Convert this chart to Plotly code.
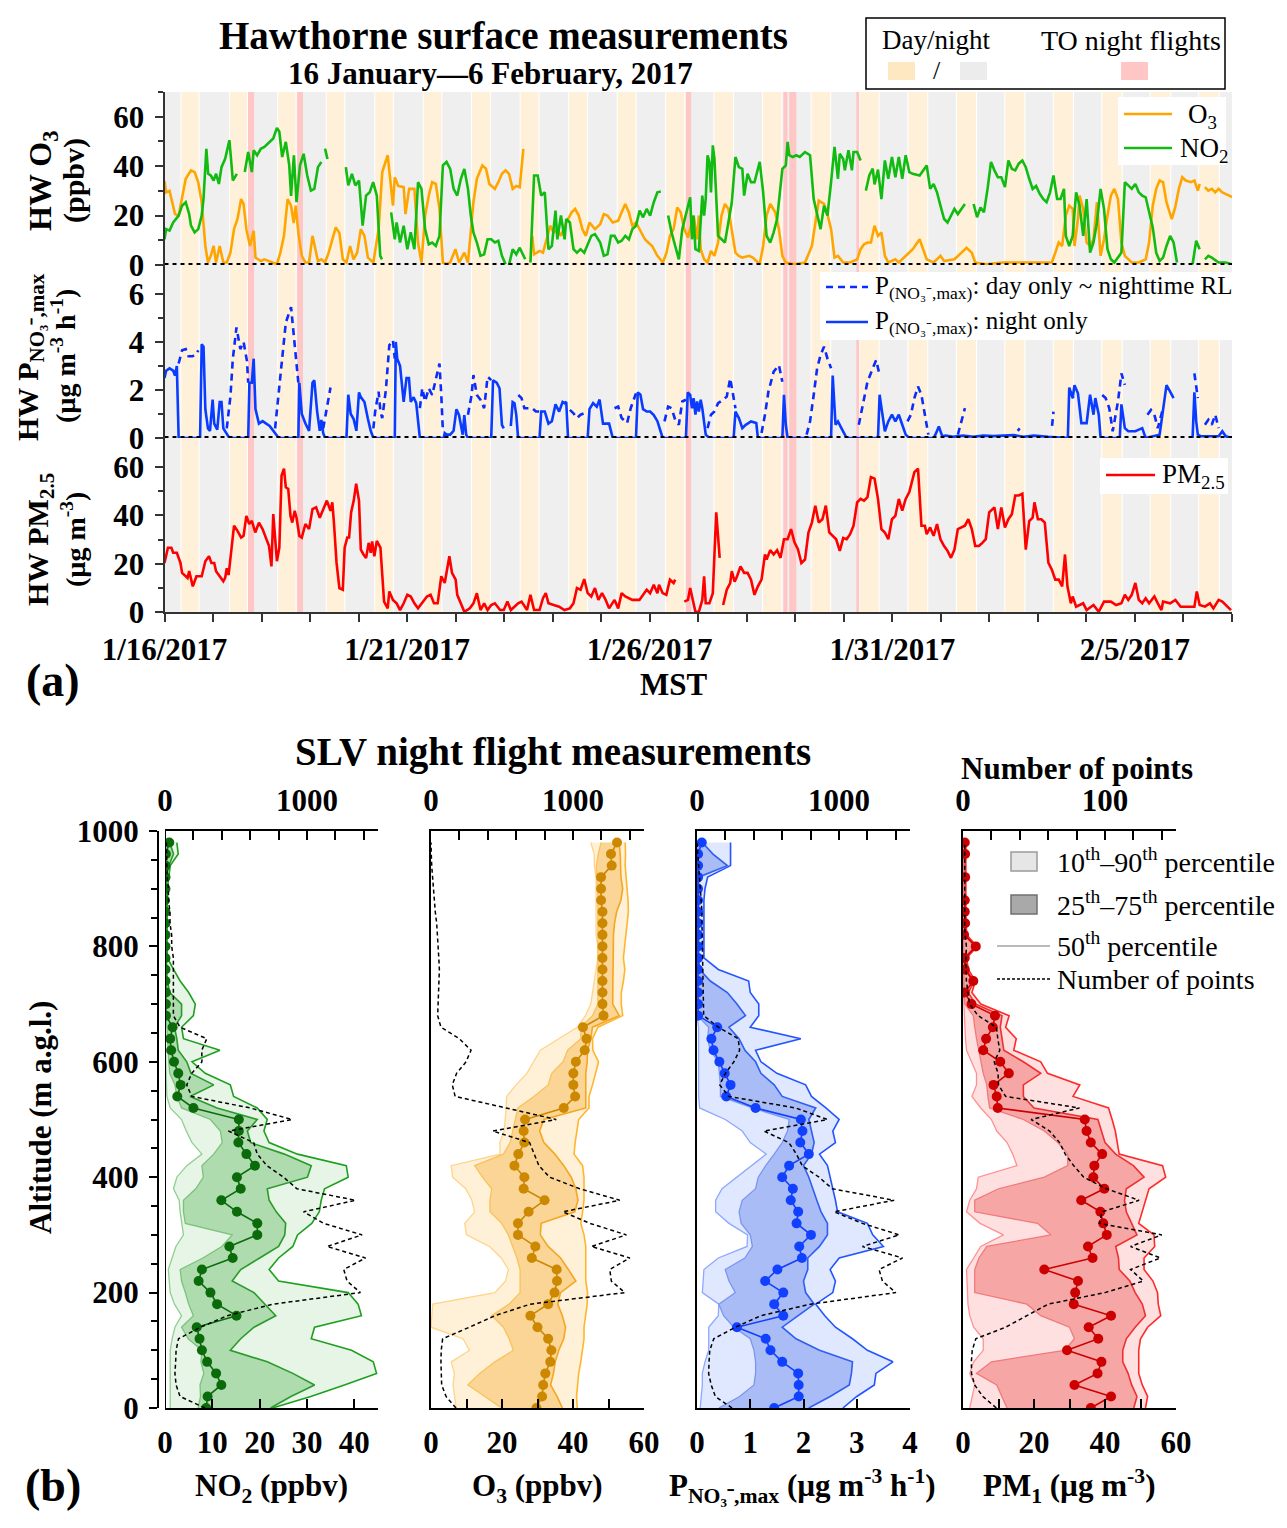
import plotly.graph_objects as go

# page is 1287 x 1528; the html body adds an 8px margin around the figure
PAGE_W, PAGE_H = 1287, 1528
OFF = 8
W, H = PAGE_W - 2 * OFF, PAGE_H - 2 * OFF
FONT = "Liberation Serif"
INK = "#333333"


def fx(p):
    return (p - OFF) / W


def fy(p):
    return 1 - (p - OFF) / H


GAP = (None, None)

# ---------------- panel (a): time axis (hours since 1/16/2017 00:00 MST) -------------
DATE_LABELS = ["1/16/2017", "1/21/2017", "1/26/2017", "1/31/2017", "2/5/2017"]
DATE_LABEL_HOURS = [0, 120, 240, 360, 480]
TOTAL_HOURS = 528

# daytime (local hours) for each of the 22 days
DAY_START = [8.1, 8.1, 8.0, 8.0, 8.0, 8.0, 7.9, 7.9, 7.9, 7.9, 7.8, 7.8, 7.8, 7.8, 7.7, 7.7, 7.7, 7.6, 7.6, 7.6, 7.5, 7.5]
DAY_END = [17.1, 17.1, 17.1, 17.2, 17.2, 17.2, 17.3, 17.3, 17.3, 17.3, 17.4, 17.4, 17.4, 17.5, 17.5, 17.5, 17.6, 17.6, 17.6, 17.7, 17.7, 17.7]

# TO night flights (start hour, end hour)
FLIGHTS = [(41.3, 44.3), (65.6, 68.5), (257.9, 260.5), (306.1, 308.1), (309.0, 312.5), (342.2, 343.6)]

O3_TS = [
    (0, 34), (0.8, 29.4), (2.5, 30), (3.4, 26.7), (5.2, 20.6), (7, 20), (8.7, 26.7), (10.5, 34.9), (13.1, 38.3),
    (14.9, 37.6), (16.7, 33.5), (18.4, 25.4), (20.2, 7.7), (21.5, 1), (22.9, 3.7), (24.3, 7.7), (25.5, 1), (27.3, 7.7),
    (29.1, 1), (30.8, 1), (32.6, 5), (34.4, 14.5), (36.1, 18.6), (37.9, 26.7), (39.1, 24.7), (40.5, 14.5), (42.3, 7.7),
    (44.1, 13.8), (45, 3), (47.6, 1.6), (49.4, 2.3), (52.9, 1), (55.6, 0.3), (57.3, 5), (59.1, 11.8), (60.9, 26.7),
    (62.6, 24), (63.9, 17), (64.9, 24), (66.2, 13), (67.9, 3.7), (69.7, 1), (71.5, 1), (73.2, 11.8), (74.4, 7.7),
    (75.9, 1.6), (77.6, 2.3), (79.4, 1), (81.2, 5), (82.9, 10.4), (84.7, 15.2), (86.5, 13), (88.2, 2.3), (90, 1),
    (91.8, 7.7), (93.5, 2.3), (95.3, 5), (97.1, 14.5), (98.9, 11.8), (100.6, 3), (103.3, 1), (105.9, 14.5), (107.7, 37.6),
    (110.4, 44.4), (111.6, 36), (113, 24), (113.9, 35.5), (115.6, 32), (118.3, 31.5), (119.2, 20.6), (121, 30.8),
    (123.6, 30.8), (125.4, 9), (127.1, 1), (128.9, 20), (130.7, 28), (132.4, 33.5), (134.2, 32.8), (136, 22.7),
    (137.7, 1), (139.5, 0.3), (141.3, 1), (143.9, 6.4), (145.7, 1), (148.3, 5), (150.1, 1), (152.8, 25.4), (154.5, 34.9),
    (157.2, 40.3), (159, 39), (160.7, 32.8), (163.4, 30.8), (165.1, 33.5), (166.9, 36.9), (168.7, 38.3), (170.4, 36.9),
    (172.2, 30.8), (174, 32), (175.7, 31.5), (177.5, 47), GAP,
    (181.9, 11.8), (182.8, 4.3), (185.5, 5.7), (187.2, 5), (189, 10.4), (190.8, 15.9), (192.5, 13), (194.3, 14.5),
    (196.1, 11.8), (198.7, 17.2), (201.4, 21.3), (203.1, 22.7), (204.9, 20), (206.7, 14.5), (208.4, 11.8), (210.2, 17.2),
    (212.9, 14.5), (215.5, 16.5), (217.3, 20.6), (219.1, 20), (221.7, 17.2), (224.4, 17.9), (226.1, 21.3), (227.9, 24.7),
    (229.7, 21.3), (231.4, 15.9), (233.2, 17.2), (235, 14.5), (237.6, 10.4), (239.4, 9), (241.2, 7.7), (243.8, 3.7),
    (246.5, 1), (248.3, 5), (250, 11.8), (251.8, 14.5), (253.6, 23.3), (255.3, 21.3), (257.1, 14.5), (258.9, 11.1),
    (261.7, 20), (263.4, 10.4), (264.3, 20), (265.2, 6.4), (266.9, 2.3), (268.6, 1), (270.3, 5.7), (272, 3.7),
    (273.8, 9.1), (275.5, 20), (277.2, 24.7), (278.9, 22.7), (280.6, 14.5), (282.4, 5), (284.1, 3.7), (285.8, 3),
    (289.2, 3.7), (291, 3), (294.4, 0.3), (296.1, 7.7), (297.8, 20), (299.6, 24.7), (302.1, 21.3), (303.9, 14.5),
    (305.6, 3.7), (307.3, 1), (311.6, 0.3), (316.8, 1), (320.2, 7.7), (321.9, 17.2), (323.6, 26), (326.2, 24.7),
    (327.9, 20.6), (329.7, 14.5), (331.4, 3), (333.1, 3.7), (335.7, 1), (339.1, 1), (342.6, 2.3), (344.3, 6.4),
    (346, 8.4), (347.7, 9.1), (349.4, 9.1), (351.2, 15.9), (352.9, 11.8), (354.6, 13.2), (356.3, 3.7), (358, 1),
    (361.5, 2.3), (363.2, 1), (366.6, 3.7), (370.1, 6.4), (373.5, 10.4), (375.2, 6.4), (377, 2.3), (380.4, 1),
    (383.8, 3.7), (385.6, 1.6), (390.7, 2.3), (394.2, 5), (396.7, 7), (399.3, 5), (401, 1), (406.2, 0.3), (414.8, 1),
    (423.4, 1), (432, 1), (438.9, 1), (440.6, 5), (442.3, 9.1), (444, 7.7), (445.8, 20), (447.5, 24), (449.2, 22.7),
    (450.1, 7.7), (451.8, 18.6), (452.6, 28.1), (454.4, 22.7), (456.1, 9.1), (457.8, 7.7), (459.5, 10.4), (461.2, 25.4),
    (463, 3.7), (464.7, 10.4), (466.4, 20), (468.1, 28.1), (469.8, 30.8), (471.6, 26.7), (473.3, 9.1), (475, 3.7),
    (478.4, 1), (481.9, 1), (485.3, 2.3), (487, 9.1), (488.8, 24), (490.5, 30.8), (492.2, 34.2), (493.9, 33.5),
    (495.6, 25.4), (498.2, 18.6), (499.9, 23.3), (501.7, 30.8), (503.4, 35.5), (505.1, 34.2), (507.7, 33.5),
    (509.4, 34.2), (511.1, 30.1), (512, 32.8), GAP,
    (514.6, 31.5), (516.3, 30.1), (518, 30.8), (519.7, 29.4), (521.4, 30.8), (523.2, 29.4), (526.6, 28.1), (528, 27.5),
]

NO2_TS = [
    (0, 10.4), (0.8, 14.5), (2.5, 13.9), (4.3, 17.2), (7, 20), (8.7, 24), (10.5, 25.4), (12.2, 20.6), (13.1, 15.9),
    (14.9, 13.2), (16.7, 14.5), (18.4, 20), (19.3, 26.7), (20.7, 47), (21.6, 36.9), (22.9, 36.2), (24.3, 34.2),
    (25.5, 36.9), (26.9, 32.8), (28.2, 39.6), (30, 43), (32.1, 50.5), (33.8, 34.2), (35.8, 36.9), GAP,
    (39.7, 37.6), (41.4, 45.7), (43.2, 37.6), (44.1, 46.4), (45.8, 44.4), (47.6, 47), (49.4, 47.8), (51.2, 49.1),
    (53.8, 51.2), (55.6, 55.5), (56.8, 53.9), (58.2, 43.7), (60, 49.8), (61.7, 40.3), (62.6, 28), (64, 44.4),
    (65.3, 25.4), (67, 40.3), (68.8, 45), (70.6, 36.2), (72.4, 30.1), (74.1, 30.8), (75.9, 39.6), (77.6, 41.7), GAP,
    (79.4, 47.1), (80.6, 42.9), GAP,
    (89.7, 39.6), (90.9, 32.2), (92.7, 36.9), (94.4, 32.2), (96.2, 34.2), (98, 15.9), (99.7, 28.1), (101.5, 29.4),
    (103.2, 33.5), (105, 28.1), (106.7, 3.7), (107.6, 2.3), GAP,
    (112.1, 21.3), (113.9, 10.4), (114.8, 17.2), (116.5, 9.1), (118.3, 15.9), (120.1, 6.4), (121.8, 13.2), (123.6, 6.4),
    (125.4, 33.5), (127.1, 30.8), (128.9, 14.5), (130.7, 8.4), (132.4, 9.1), (134.2, 7.7), (136, 11.8), (137.7, 40.3),
    (139.5, 41.7), (141.3, 38.9), (143, 30.8), (144.8, 28.1), (146.6, 34.9), (148.3, 38.9), (150.1, 30.8), (151.5, 20),
    (152.8, 13.2), (154.5, 9.1), (156.3, 3.7), (158.1, 4.3), (159.8, 10.4), (161.6, 10.4), (163.4, 9.1), (165.1, 9.8),
    (166.9, 3.7), (168.7, 0.3), GAP,
    (170.4, 0), (172.2, 6.4), (174, 4.3), (175.7, 7), (178.4, 2.3), GAP,
    (181, 1), (182.8, 36.2), (184.6, 36.2), (186.3, 28.1), (188.1, 29.4), (189.9, 6.4), (191.6, 7.7), (193.4, 22),
    (194.3, 10.4), (196.1, 20), (197.9, 10.4), (198.7, 18.6), (200.5, 17.2), (202.3, 6.4), (204, 5), (205.8, 6.4),
    (207.6, 5), (209.3, 8.4), (211.1, 11.8), (212.9, 12.5), (215.5, 9.1), (217.3, 3.7), (219.1, 4.3), (220.8, 11.8),
    (222.6, 11.8), (224.4, 9.1), (226.1, 9.8), (227.9, 11.8), (229.7, 10.4), (231.4, 14.5), (233.2, 15.9), (235, 22),
    (236.7, 19.3), (238.5, 22.7), (240.2, 20), (242, 25.4), (243.8, 29.4), (245.5, 29.7), GAP,
    (249.1, 20), (250.8, 13.2), (252.6, 7.7), (254.4, 2.3), (256.1, 14.5), (257.9, 20),
    (260, 27.4), (260.9, 10.4), (261.7, 20), (262.6, 6.4), (264.3, 5.7), (266, 28.1), (266.9, 20), (267.7, 26.7),
    (268.6, 44.4), (269.5, 41.7), (270.3, 29.4), (271.2, 48.4), (272, 43), (273.8, 11.8), (275.5, 10.4), (277.2, 9.1),
    (278.9, 17.2), (280.6, 25.4), (282.4, 43.7), (284.1, 39.6), (285.8, 38.9), (286.7, 28.1), (288.4, 36.9),
    (290.1, 33.5), (291.8, 33.5), (293.5, 38.3), (294.4, 41.7), (296.1, 29.4), (297.8, 11.8), (299.6, 9.1),
    (301.3, 13.2), (303, 18.6), (305.6, 38.9), (307.3, 40.3), (308.2, 49.8), (309, 44.4), (310.7, 43.7), (312.5, 44.4),
    (314.2, 43.7), (316.8, 45.7), (319.3, 44.4), (321.1, 26.7), (322.8, 20), (324.5, 14.5), (326.2, 24), (327.9, 20),
    (329.7, 33.5), (331.4, 47.8), (333.1, 34.9), (334, 45), (335.7, 42.9), (336.5, 38.3), (338.3, 46.4), (340, 38.3),
    (340.8, 45.7), (342.6, 45.7), (344.3, 42.3), GAP,
    (346.9, 30.1), (348.6, 36.2), (350.3, 39), (351.2, 32.6), (352.9, 38.6), (354.6, 26.7), (356.3, 42.3), (358, 34.9),
    (359.8, 43.7), (361.5, 35.5), (363.2, 43.7), (364.9, 34.9), (366.6, 44.4), (368.4, 37.6), (370.1, 36.9),
    (373.5, 36.2), (377, 40.3), (378.7, 30.8), (380.4, 32.8), (382.1, 29.4), (383.8, 24), (385.6, 18.6), (387.3, 17.2),
    (389, 20), (390.7, 22.7), (392.4, 20.6), (394.2, 22.7), (395.9, 24.7), GAP,
    (400.2, 24.7), (401.9, 19.3), (403.6, 23.3), (405.3, 21.3), (407.1, 30.8), (408.8, 41.7), (410.5, 38.3),
    (412.2, 35.5), (413.9, 35.5), (415.7, 31.5), (417.4, 42.3), (419.1, 38.9), (420.8, 38.3), (422.5, 41), (424.3, 42.3),
    (426, 39.6), (427.7, 34.9), (429.4, 30.8), (431.1, 32), (432.9, 28.8), (434.6, 26.7), (436.3, 25.4), (438, 29.4),
    (439.7, 36.2), (441.5, 26.7), (443.2, 26.7), (444.9, 30.8), (445.8, 11.8), (447.5, 7.7), (449.2, 11.8),
    (450.9, 29.4), (452.6, 24), (454.4, 11.8), (456.1, 26.7), (457.8, 5), (459.5, 9.1), (461.2, 17.2), (463, 30.8),
    (464.7, 22.7), (466.4, 6.4), (468.1, 2.3), (469.8, 1), (473.3, 5), (475, 33.5), (476.7, 32.2), (478.4, 30.8),
    (480.2, 32.8), (481.9, 29.4), (483.6, 28.1), (485.3, 27.4), (488.8, 15.2), (490.5, 5), (492.2, 1.6), (493.9, 3),
    (495.6, 7.7), (497.4, 11.8), (499.1, 9.1), (500.8, 1), GAP,
    (508.5, 0.3), (510.3, 9.8), (512, 6.4), GAP,
    (514.6, 2.3), (516.3, 3.7), (518, 3), (521.4, 1), (524.9, 1), (528, 0.3),
]

P_NIGHT_TS = [
    (0, 2.5), (0.8, 2.8), (2.5, 2.9), (4.3, 2.8), (5.2, 2.6), (6.1, 3.0), (7.0, 0), (17.6, 0), (18.4, 3.9), (19.3, 3.8),
    (20.2, 1.2), (21.5, 0.4), (22.5, 0.3), (23.8, 1.6), (24.6, 0.6), (26.1, 0.35), (27.3, 1.5), (28.2, 1.5), (29.1, 0.4),
    (30.8, 0.14), (32.1, 0), (41.4, 0), (42, 2.3), (43.2, 2.3), (44.1, 3.3), (45, 1.2), (46.7, 0.6), (48.5, 0.7),
    (50.3, 0.6), (52, 0.5), (53.8, 0.3), (55.6, 0.07), (56.5, 0), (66.2, 0), (66.7, 2.3), (67.9, 1), (69.7, 0.6),
    (71.5, 0.3), (73.2, 2.3), (74.1, 2.4), (75.5, 1.1), (76.8, 0.3), (77.6, 0.75), (78.5, 0.2), (79.4, 0), (90, 0),
    (90.9, 1.8), (92.1, 1), (93.5, 0.8), (94.9, 0.3), (96.2, 1.9), (97.1, 1.7), (98.9, 1.5), (100.6, 0.8), (102, 0.3),
    (103.3, 0), (113.9, 0), (114.4, 4), (115.1, 3.3), (116.5, 3.0), (118.3, 1.5), (119.7, 2.5), (120.9, 2.5),
    (121.8, 1.5), (123.2, 1.7), (124.5, 1.45), (126.3, 0), (138.1, 0), (138.6, 0.2), (139.5, 0.14), (141.3, 0.14),
    (143, 0.3), (144.4, 1.2), (145.7, 0.95), (147.5, 0.14), (148.3, 0.95), (149.2, 0.14), (150.1, 0), (161.6, 0),
    (162.5, 2.4), (164.3, 2.3), (165.7, 2.07), (166.9, 0.55), (167.8, 0.4), GAP,
    (171.3, 0.5), (172.2, 1.5), (173.1, 1.45), (174, 0.95), (174.9, 0), (185.5, 0), (186.3, 1.1), (188.1, 1.1),
    (189.9, 0.6), (191.6, 0.7), (193.4, 1.4), (195.2, 1.1), (196.9, 1.5), (197.8, 1.45), (198.7, 1.5), (199.6, 0),
    (209.3, 0), (210.2, 1.2), (212, 1.45), (213.8, 1.3), (215.2, 1.6), (216.9, 0.6), (218.2, 0.6), (219.9, 0.6),
    (221.7, 0), (233.2, 0), (234.1, 1.9), (235.4, 1.8), (236.7, 1.2), (238.5, 1.1), (240.2, 1.1), (242, 0.95),
    (243.8, 0.7), (245.5, 0.3), (246.4, 0), (257.9, 0), (258.8, 1.9),
    (260, 1.8), (260.9, 1.24), (261.7, 1.66), (262.6, 0.97), (263.4, 1.52), (264.3, 1.1), (265.2, 1.59), (266, 1.24),
    (267.7, 0.14), (269.5, 0), (281.5, 0), (282.4, 1.1), (284.1, 0.83), (285.8, 0.41), (287.5, 0.55), (290.1, 0.69),
    (292.7, 0.62), (293.5, 0), (305.6, 0), (306.4, 1.8), (307.3, 0.55), (308.2, 0), (329.7, 0), (330.5, 2.6),
    (331.9, 0.55), (333.1, 0.69), (334.8, 0.41), (335.7, 0.28), (337.4, 0), (352.9, 0), (353.7, 1.8), (354.9, 1.1),
    (356.3, 0.28), (358, 0.69), (359.8, 0.97), (361.5, 0.69), (363.2, 0.97), (364.9, 0.55), (366.6, 0.14), (368.4, 0),
    (380.4, 0), (381.3, 0.14), (383, 0.48), (384.7, 0.07), (386.4, 0.1), (390, 0.05), (395, 0.1), (400, 0.05),
    (405, 0.1), (410, 0.08), (420, 0.12), (425, 0.05), (430, 0.1), (437, 0.05), (446.8, 0), (447.5, 2.1), (449.2, 1.66),
    (450.1, 2.2), (451.8, 1.86), (453.5, 0.62), (456.1, 0.62), (457.8, 1.8), (459.5, 0.97), (460.4, 1.66),
    (462.1, 0.97), (463, 0), (472.5, 0), (473.3, 1.4), (475, 0.41), (476.7, 0.28), (480.2, 0.28), (483.6, 0.41),
    (485.3, 0), (492.2, 0.14), (493.9, 1.24), (495.6, 2.2), (497.4, 1.93), (499.1, 1.66), GAP,
    (508.5, 0), (509.4, 1.9), (510.3, 0.69), (511.1, 0.14), (512.8, 0.07), (521.4, 0.07), (523.2, 0.28), (524.9, 0.07),
    (528, 0),
]

P_DAY_TS = [
    (7, 3.1), (8.7, 3.65), (10.5, 3.7), (11.9, 3.4), (13.7, 3.4), (15.4, 3.45), (16.7, 3.65), GAP,
    (30.8, 0.4), (32.6, 1.72), (33.8, 3.3), (35.6, 4.6), (37.5, 3.7), (39.1, 4.0), (40.8, 3.2), (41.4, 2.3), GAP,
    (54.7, 0.4), (56.5, 1.9), (58.2, 3.6), (60, 4.8), (62.6, 5.45), (64, 4.3), (65.3, 3.0), (66.2, 2.3), GAP,
    (78.5, 0.4), (80.3, 1.24), (82.1, 2.1), GAP,
    (103.3, 0.4), (104.2, 1.1), (105.9, 1.93), (106.8, 1.1), (107.7, 0.83), (109.5, 2.0), (111.2, 3.86), (113, 4.07),
    (113.9, 3.3), GAP,
    (126.3, 1.24), (127.5, 2.07), (128.9, 1.52), (130.7, 2.07), (132.4, 1.79), (134.2, 2.48), (136, 3.1), (136.9, 1.79),
    (137.7, 0.28), GAP,
    (150.1, 0.97), (151.9, 1.79), (152.8, 2.62), (154.5, 1.79), (156.3, 1.59), (158.1, 1.24), (159.8, 2.55),
    (161.6, 2.41), GAP,
    (175, 1.79), (176.6, 1.66), (178, 1.24), (181.9, 1.24), (183.7, 1.1), (185.5, 1.1), GAP,
    (200.5, 1.17), (202.3, 1.03), (204, 0.83), (205.8, 0.97), (207.6, 1.03), (209.3, 1.1), GAP,
    (222.6, 1.24), (224.4, 1.31), (226.1, 0.83), (228.8, 0.62), (230.6, 1.24), (232.3, 1.65), (233.2, 1.86), GAP,
    (247.3, 0.69), (249.1, 1.31), (250.8, 1.24), (252.6, 0.76), (254.4, 0.55), (256.1, 1.52), (257.9, 1.59), GAP,
    (268.6, 0.41), (270.3, 0.97), (272, 1.1), (273.8, 1.45), (276.3, 1.59), (278.1, 1.72), (279.8, 2.48), (280.6, 2.07),
    (282.4, 1.24), GAP,
    (295.3, 0.21), (297, 0.97), (298.7, 1.93), (301.3, 2.76), (303.9, 3.03), (305.6, 2.34), GAP,
    (317.6, 0.14), (319.3, 0.69), (321.1, 1.79), (322.8, 2.9), (324.5, 3.45), (326.2, 3.8), (327.9, 3.31), (329.7, 2.9),
    GAP,
    (343.4, 0.55), (346, 1.66), (347.7, 2.34), (350.3, 2.9), (352, 3.24), (353.7, 2.62), GAP,
    (367.5, 0.69), (369.2, 0.97), (370.9, 1.66), (372.7, 2.14), (374.4, 1.79), (376.1, 0.97), (377.8, 0.14), GAP,
    (392.4, 0.14), (394.2, 0.69), (395.9, 1.24), GAP,
    (422, 0.3), (423, 0.4), GAP,
    (439, 0.5), (439.7, 1.1), GAP,
    (448.3, 1.93), (450.1, 1.52), GAP,
    (463.8, 1.79), (465.5, 1.66), (467.3, 1.24), (469, 0.28), (471.6, 1.52), (473.3, 2.69), (475, 2.21), GAP,
    (486.2, 0.97), (487.9, 1.17), (489.6, 0.97), (491.3, 0.41), (493.9, 1.24), GAP,
    (509.4, 2.69), (511.1, 1.66), GAP,
    (514.6, 0.55), (516.3, 0.76), (518, 0.55), (519.7, 0.97), (521.4, 0.41),
]

PM25_TS = [
    (0, 20.3), (0.8, 23.1), (1.7, 26.6), (3.4, 26.6), (4.3, 24.5), (6.1, 24.5), (7.9, 20.3), (8.7, 16.2), (9.6, 15.5),
    (11.4, 14.1), (12.2, 16.9), (14, 10.6), (15.8, 14.8), (18.4, 14.8), (20.2, 21), (22, 23.1), (23.2, 20.3),
    (24.6, 20.3), (25.5, 16.9), (27.3, 14.8), (29.1, 12.7), (30, 14.1), (30.8, 18.1), (31.7, 15.3), (33.5, 30.1),
    (34.4, 35.7), (36.1, 33.6), (37.9, 30.8), (39.1, 31.5), (40.5, 39.8), (41.9, 36.4), (43.2, 37.7), (44.9, 32.9),
    (46.7, 37), (48.5, 34.3), (50.3, 30.8), (51.7, 27.3), (52.9, 18.9), (53.8, 40.5), (55.6, 21), (56.8, 26.6),
    (57.9, 56.5), (59.1, 59.3), (60, 51.6), (61.2, 50.9), (62.3, 39.8), (63.2, 37), (64.4, 41.9), (65.3, 39),
    (66.7, 31.5), (67.9, 30.8), (69.7, 36.4), (71.5, 34.3), (73.2, 42.6), (75, 43.3), (76.8, 39), (78.5, 42.6),
    (80.3, 46.1), (82.1, 41.9), (83, 45.4), (83.8, 37), (85.1, 20.3), (86.5, 9.9), (88.2, 9.2), (89.1, 26.6),
    (90.4, 30.8), (91.3, 30.8), (92.3, 41.2), (93.6, 46.1), (94.8, 53.1), (96.2, 46.1), (97.1, 25.8), (98.5, 23.7),
    (99.7, 22.3), (101, 28.6), (102, 24.5), (102.7, 29.2), (103.8, 23), (105, 29.4), (106.8, 26.6), (108.6, 4.3),
    (110.4, 1.5), (111.2, 8.5), (113, 5), (114.8, 3.6), (116.5, 0.8), (118.3, 3.6), (120.1, 7.1), (121.8, 6.4),
    (123.6, 3.6), (125.4, 1.5), (127.1, 3.6), (129.8, 6.4), (131.6, 7.1), (133.3, 3.6), (135.1, 3.6), (136.9, 14.8),
    (138.6, 12), (140.9, 23.1), (142.2, 16.2), (144, 13.4), (144.8, 7.1), (146.6, 3.6), (148.3, 0.1), (151, 1.5),
    (152.8, 3.6), (154.5, 7.8), (156.3, 0.8), (158.1, 3.6), (159.8, 0.8), (161.6, 2.9), (163.4, 3.6), (166, 0.8),
    (167.8, 0.8), (169.6, 4.3), (171.3, 0.8), (173.1, 2.2), (174.9, 3.6), (176.6, 4.3), (179.3, 0.8), (181, 7.1),
    (182.8, 0.8), (185.5, 0.8), (187.2, 5.7), (188.6, 7.8), (189.9, 3.6), (192.5, 2.9), (195.2, 2.2), (197.8, 0.8),
    (200.5, 1.5), (202.3, 3.6), (204, 9.9), (205.8, 9.2), (207.6, 13.6), (209.3, 7.8), (211.1, 6.4), (212.9, 9.9),
    (214.6, 5), (216.4, 7.8), (218.2, 5), (219.9, 1.5), (222.6, 5), (224.4, 1.5), (226.1, 7.8), (227.9, 6.4),
    (231.4, 5), (234.9, 5), (236.7, 7.1), (238.5, 9.2), (240.2, 7.8), (242, 11.3), (243.8, 7.8), (244.6, 11.3),
    (246.4, 7.8), (248.2, 7.1), (250, 13.4), (251.8, 12), (252.6, 13.4), GAP,
    (257.1, 4.3), (258.9, 5), (260, 9.9), (260.9, 6.4), (262.6, 0.1), (264.3, 0.1), (266, 5), (266.9, 14.8),
    (267.7, 3.6), (269.5, 3.6), (271.2, 7.8), (272.9, 41.2), (274.6, 22.4), GAP,
    (276.3, 2.9), (278.1, 9.2), (279.8, 12), (280.6, 16.9), (282, 12.5), (283.2, 14.8), (284.9, 18.9), (286.7, 16.2),
    (288.4, 16.2), (290.1, 13.4), (291.8, 7.1), (293.5, 10.6), (295.3, 13.4), (297, 23.8), (297.8, 21.7),
    (299.6, 25.6), (301.3, 23.8), (303, 25.6), (304.7, 22.4), (306.4, 30.1), (308.2, 30.1), (309.9, 34.3),
    (311.6, 28.8), (313.3, 26), (315, 20.3), (316.8, 21.7), (318.5, 32.9), (320.2, 37), (321.9, 44), (323.6, 37),
    (325.4, 38.4), (327.1, 44), (328.8, 32.9), (330.5, 31.5), (332.2, 30.1), (334, 25.3), (335.7, 30.6), (337.4, 30.1),
    (339.1, 32.2), (340.8, 35.7), (342.6, 45.4), (344.3, 46.8), (346, 46.1), (347.7, 47.5), (349.4, 55.8),
    (351.2, 55.2), (352.9, 46.8), (354.6, 34.3), (356.3, 32.9), (358, 30.1), (359.8, 38.4), (361.5, 39.8),
    (363.2, 46.8), (364.9, 41.9), (366.6, 46.8), (368.4, 49.6), (370.9, 57.9), (372.7, 59.3), (374.4, 35.7),
    (376.1, 35.7), (377, 32.2), (378.7, 35), (380.4, 31.5), (382.1, 36.4), (383.8, 30.1), (385.6, 27.3), (387.3, 25.3),
    (389, 22.4), (390.7, 25.8), (392.4, 34.3), (394.2, 35), (395.9, 35.7), (397.6, 38.4), (399.3, 34.3), (401, 27.3),
    (402.8, 27.3), (404.5, 28.6), (406.2, 30.1), (407.9, 41.2), (410.5, 43.3), (412.2, 34.3), (413.9, 43.3),
    (415.7, 35), (417.4, 38.4), (419.1, 40.5), (420.8, 48.2), (422.5, 48.2), (424.3, 48.9), (426, 25.8), (427.7, 37.6),
    (429.4, 39), (430.3, 45.4), (432, 38.4), (433.7, 38.4), (435.4, 37), (437.2, 20.3), (438.9, 17.5), (440.6, 13.4),
    (442.3, 13.4), (444, 10.6), (445.4, 23.8), (446.6, 10.6), (448.3, 3.6), (449.2, 6.4), (450.9, 2.2), (454.4, 3.6),
    (456.1, 0.8), (459.5, 2.9), (462.1, 0.1), (464.7, 4.3), (468.1, 4.3), (470.7, 2.9), (473.3, 3.6), (475, 7.1),
    (476.7, 5), (478.4, 7.1), (480.2, 12), (481.9, 5), (483.6, 3.6), (485.3, 5.7), (487, 3.6), (489.6, 6.4),
    (491.3, 3.6), (493.1, 0.8), (493.9, 4.3), (497.4, 3.6), (500, 5), (502.6, 2.2), (506, 2.2), (509.4, 2.2),
    (510.6, 8.5), (512, 2.9), (514.6, 2.2), (517.1, 3.6), (518.8, 1.5), (521.4, 5), (523.2, 4.3), (525.7, 2.2),
    (527.5, 0.8),
]

# ---------------- panel (b): vertical profiles ----------------
ALT = [0, 20, 40, 60, 80, 100, 120, 140, 160, 180, 200, 220, 240, 260, 280, 300, 320, 340, 360, 380,
       400, 420, 440, 460, 480, 500, 520, 540, 560, 580, 600, 620, 640, 660, 680, 700, 720, 740, 760, 780,
       800, 820, 840, 860, 880, 900, 920, 940, 960, 980]

NO2_P10 = [1.1, 1.1, 1.1, 1.1, 1.1, 1.1, 1.5, 2.1, 3.5, 2.0, 1.1, 0.9, 0.7, 1.5, 2.3, 3.9, 3.5, 3.2, 3.0, 1.8,
           2.5, 4.6, 7.8, 5.7, 4.5, 3.5, 1.1, 0.4, 0.3, 0.2, 0.1, 0.1, 0.1, 0.1, 0.0, 0.0, 0.0, 0.0, 0.0, 0.0,
           0.0, 0.0, 0.0, 0.0, 0.0, 0.0, 0.0, 0.0, 0.0, 0.0]
NO2_P25 = [7.0, 7.5, 7.4, 8.2, 7.6, 7.8, 4.9, 3.5, 6.0, 5.0, 4.3, 3.5, 3.2, 8.0, 12.0, 14.2, 4.3, 3.9, 3.9, 6.5,
           8.1, 7.8, 10.3, 12.1, 11.7, 9.6, 3.5, 2.5, 2.1, 1.0, 0.8, 0.7, 0.5, 0.4, 0.1, 0.1, 0.1, 0.1, 0.1, 0.1,
           0.1, 0.0, 0.0, 0.0, 0.0, 0.0, 0.0, 0.1, 0.2, 0.5]
NO2_P50 = [8.7, 9.0, 11.9, 10.8, 8.9, 7.8, 7.3, 6.7, 15.1, 11.0, 9.6, 7.1, 7.8, 14.3, 13.6, 19.5, 19.5, 15.2, 11.9, 16.0,
           15.2, 19.0, 17.2, 15.5, 15.6, 15.6, 6.0, 2.6, 3.3, 2.8, 1.9, 1.3, 1.1, 1.6, 0.2, 0.2, 0.2, 0.1, 0.1, 0.1,
           0.1, 0.1, 0.1, 0.1, 0.0, 0.1, 0.1, 0.1, 0.2, 0.9]
NO2_P75 = [22.3, 26.6, 31.6, 27.0, 21.6, 13.8, 16.0, 18.8, 23.4, 21.0, 18.8, 14.2, 16.0, 20.0, 24.0, 25.3, 25.5, 23.5, 22.0, 21.6,
           30.1, 30.9, 25.2, 18.1, 17.4, 19.5, 11.0, 5.3, 10.3, 5.5, 4.6, 2.8, 2.5, 2.0, 3.5, 3.5, 1.0, 0.5, 0.3, 0.3,
           0.3, 0.3, 0.3, 0.3, 0.3, 0.3, 0.3, 0.8, 1.8, 1.0]
NO2_P90 = [22.7, 30.8, 37.9, 44.7, 44.0, 39.4, 30.9, 31.6, 41.5, 40.8, 38.7, 24.0, 22.0, 24.0, 27.0, 28.0, 31.0, 32.6, 33.0, 33.7,
           38.7, 38.3, 28.0, 22.0, 20.9, 21.6, 19.5, 14.5, 13.8, 8.5, 5.7, 11.6, 3.9, 3.5, 6.0, 6.4, 5.0, 3.2, 1.8, 0.5,
           0.4, 0.4, 0.4, 0.4, 0.4, 0.5, 0.8, 1.1, 2.8, 2.5]
NO2_N = [282, 106, 78, 70, 75, 78, 95, 250, 440, 760, 1376, 1282, 1259, 1412, 1141, 1388, 1118, 976, 1341, 929,
         835, 718, 650, 624, 447, 894, 600, 188, 153, 188, 260, 259, 294, 105, 59, 59, 59, 59, 59, 59,
         47, 47, 35, 35, 24, 24, 15, 12, 10, 10]

O3_P10 = [7.1, 6.6, 6.2, 6.6, 5.7, 10.9, 9.0, 0.0, 0.3, 0.5, 18.0, 21.0, 21.8, 19.8, 16.5, 10.0, 9.5, 12.3, 11.5, 9.8,
          6.1, 5.7, 19.5, 19.4, 20.6, 21.0, 21.2, 21.3, 24.0, 27.0, 29.0, 30.8, 36.0, 41.2, 43.5, 45.0, 45.5, 46.0, 46.5, 47.0,
          47.0, 46.5, 46.5, 46.5, 46.5, 46.5, 46.5, 46.0, 46.0, 45.0]
O3_P25 = [19.9, 15.0, 10.4, 13.7, 18.0, 23.2, 22.0, 20.4, 17.1, 22.0, 25.1, 25.1, 25.1, 24.2, 23.0, 21.8, 19.9, 16.6, 16.6, 17.1,
          14.5, 12.3, 20.4, 22.3, 23.0, 23.7, 24.5, 29.0, 33.0, 34.0, 37.2, 38.5, 42.2, 42.2, 45.5, 47.0, 47.0, 47.0, 47.0, 47.0,
          47.0, 47.0, 47.0, 47.0, 47.0, 47.0, 46.6, 46.6, 47.1, 47.9]
O3_P50 = [29.7, 31.3, 31.6, 32.2, 33.6, 33.9, 33.0, 30.0, 28.0, 33.0, 34.8, 35.5, 35.4, 28.4, 29.4, 24.5, 24.5, 27.5, 32.0, 26.1,
          26.3, 23.5, 24.6, 26.3, 26.1, 26.5, 37.4, 40.6, 40.1, 40.1, 40.8, 43.3, 43.8, 42.8, 48.6, 48.3, 48.3, 48.3, 48.3, 48.3,
          48.3, 48.3, 48.3, 48.3, 47.9, 47.9, 47.9, 50.9, 50.7, 52.4]
O3_P75 = [37.0, 35.5, 33.7, 34.5, 35.0, 36.0, 37.4, 37.9, 37.0, 35.7, 36.5, 40.8, 38.7, 36.5, 33.0, 30.8, 31.0, 40.5, 41.4, 40.8,
          39.5, 37.4, 34.9, 31.8, 30.6, 31.8, 43.6, 43.6, 43.6, 43.6, 44.0, 44.1, 45.0, 45.5, 53.0, 51.2, 51.2, 51.2, 51.2, 51.2,
          51.2, 51.4, 51.7, 52.3, 53.5, 54.0, 53.5, 53.5, 53.3, 53.0]
O3_P90 = [41.2, 41.0, 41.3, 41.6, 42.2, 42.7, 43.1, 43.1, 43.6, 44.0, 44.1, 43.6, 43.6, 43.6, 43.6, 43.1, 42.2, 42.7, 43.1, 43.1,
          43.1, 42.7, 40.3, 40.6, 41.2, 41.6, 44.5, 44.5, 45.5, 46.4, 47.2, 45.6, 45.5, 47.0, 54.0, 53.6, 53.6, 54.2, 54.6, 54.2,
          54.5, 54.8, 55.2, 55.6, 55.5, 55.3, 54.9, 54.7, 54.8, 54.7]
O3_N = [176, 106, 75, 70, 70, 72, 82, 270, 450, 700, 1365, 1270, 1259, 1400, 1129, 1376, 1120, 929, 1329, 1047,
        835, 760, 729, 694, 435, 882, 529, 170, 150, 180, 247, 282, 200, 70, 47, 50, 55, 59, 59, 55,
        50, 47, 40, 30, 23, 15, 10, 5, 2, 0]

PNO3_P10 = [0.06, 0.08, 0.1, 0.1, 0.15, 0.22, 0.22, 0.22, 0.4, 0.41, 0.1, 0.12, 0.13, 0.4, 0.94, 0.95, 0.6, 0.35, 0.35, 0.47,
            0.75, 1.04, 1.3, 1.0, 0.85, 0.53, 0.05, 0.03, 0.03, 0.03, 0.03, 0.03, 0.03, 0.03, 0.0, 0.0, 0.0, 0.0, 0.0, 0.0,
            0.0, 0.0, 0.0, 0.0, 0.0, 0.0, 0.0, 0.0, 0.0, 0.0]
PNO3_P25 = [0.41, 0.8, 1.07, 1.1, 1.1, 1.07, 1.0, 0.69, 0.5, 0.41, 0.72, 0.6, 0.53, 0.9, 1.04, 1.0, 0.83, 0.79, 0.85, 1.1,
            1.15, 1.29, 1.45, 1.6, 1.7, 1.73, 1.04, 0.44, 0.44, 0.42, 0.4, 0.25, 0.2, 0.22, 0.01, 0.01, 0.01, 0.01, 0.01, 0.01,
            0.01, 0.01, 0.01, 0.01, 0.01, 0.01, 0.01, 0.01, 0.01, 0.02]
PNO3_P50 = [1.45, 1.91, 1.91, 1.9, 1.6, 1.38, 1.29, 0.75, 1.62, 1.45, 1.62, 1.28, 1.51, 1.97, 1.92, 2.14, 1.87, 1.9, 1.76, 1.8,
            1.6, 1.73, 2.1, 1.94, 1.98, 1.95, 1.1, 0.55, 0.63, 0.52, 0.42, 0.31, 0.27, 0.38, 0.02, 0.02, 0.02, 0.02, 0.02, 0.02,
            0.02, 0.02, 0.02, 0.02, 0.02, 0.02, 0.02, 0.02, 0.02, 0.09]
PNO3_P75 = [2.1, 2.5, 2.86, 2.9, 2.92, 2.3, 1.86, 1.6, 1.9, 2.2, 2.04, 2.0, 2.08, 2.08, 2.3, 2.45, 2.45, 2.33, 2.25, 2.17,
            2.1, 2.0, 2.15, 2.2, 2.15, 2.1, 2.23, 1.6, 1.45, 1.2, 1.1, 0.9, 0.79, 0.6, 0.91, 0.75, 0.57, 0.25, 0.05, 0.03,
            0.03, 0.03, 0.03, 0.03, 0.03, 0.03, 0.03, 0.57, 0.3, 0.1]
PNO3_P90 = [2.74, 3.0, 3.33, 3.36, 3.68, 3.2, 2.92, 2.6, 2.4, 2.23, 2.55, 2.6, 2.5, 2.67, 3.5, 3.3, 3.2, 2.64, 2.6, 2.55,
            2.5, 2.45, 2.3, 2.6, 2.55, 2.67, 2.42, 2.15, 2.04, 1.5, 1.2, 1.1, 1.95, 1.0, 1.16, 1.16, 1.0, 0.97, 0.4, 0.13,
            0.13, 0.13, 0.13, 0.13, 0.13, 0.15, 0.2, 0.63, 0.63, 0.63]
PNO3_N = [247, 129, 100, 82, 85, 90, 118, 271, 450, 800, 1400, 1306, 1282, 1447, 1165, 1424, 1165, 965, 1388, 953,
          859, 741, 700, 647, 470, 918, 694, 224, 160, 200, 260, 300, 290, 150, 47, 45, 42, 40, 40, 38,
          37, 36, 35, 35, 30, 25, 18, 10, 5, 0]

PM1_P10 = [1.9, 2.5, 3.3, 1.9, 3.0, 5.7, 5.7, 3.0, 1.9, 1.4, 1.2, 1.0, 1.0, 3.0, 5.0, 11.4, 4.8, 1.0, 1.9, 3.8,
           4.3, 15.2, 14.0, 12.4, 9.5, 8.0, 5.0, 2.5, 3.8, 3.8, 2.5, 1.0, 0.7, 0.5, 0.4, 0.3, 0.1, 0.1, 0.1, 0.1,
           0.1, 0.1, 0.1, 0.1, 0.1, 0.1, 0.1, 0.1, 0.1, 0.1]
PM1_P25 = [12.4, 11.0, 9.5, 3.8, 8.0, 28.6, 31.4, 30.0, 21.9, 18.0, 3.3, 3.3, 3.3, 4.5, 6.7, 24.8, 21.0, 3.3, 3.3, 10.0,
           22.9, 29.5, 29.5, 26.7, 22.9, 17.0, 7.5, 7.0, 6.7, 5.7, 5.0, 4.5, 3.8, 3.3, 2.9, 0.5, 0.3, 0.3, 0.2, 0.2,
           0.2, 0.2, 0.2, 0.2, 0.2, 0.2, 0.2, 0.2, 0.2, 0.2]
PM1_P50 = [36.0, 41.7, 31.4, 37.9, 39.0, 29.3, 38.1, 35.4, 41.7, 31.2, 31.6, 32.4, 22.9, 36.5, 35.2, 40.5, 39.5, 38.7, 33.3, 39.8,
           36.7, 37.0, 39.2, 36.0, 34.8, 34.3, 9.8, 9.5, 8.6, 12.9, 10.5, 5.7, 6.5, 8.4, 9.0, 2.4, 0.5, 2.9, 0.5, 0.5,
           3.6, 0.3, 0.6, 0.5, 0.5, None, 0.6, None, 0.6, 0.5]
PM1_P75 = [48.1, 49.0, 47.5, 46.5, 45.0, 45.0, 46.0, 48.5, 51.4, 50.5, 48.5, 47.0, 44.0, 43.8, 43.0, 49.0, 47.5, 46.0, 45.5, 46.0,
           51.0, 48.0, 43.0, 40.0, 39.0, 38.0, 20.0, 17.0, 17.0, 21.9, 17.0, 11.5, 11.0, 10.5, 11.0, 3.5, 1.5, 3.2, 0.8, 0.8,
           3.8, 0.6, 0.6, 0.6, 0.6, 0.6, 0.6, 0.6, 0.6, 0.6]
PM1_P90 = [51.4, 52.0, 50.5, 49.5, 49.5, 49.5, 50.0, 52.0, 55.7, 55.0, 54.8, 53.5, 51.0, 51.0, 54.0, 53.8, 49.5, 50.5, 51.5, 52.4,
           57.1, 56.2, 44.0, 43.5, 42.9, 42.0, 41.0, 31.0, 32.9, 23.8, 21.9, 14.3, 15.0, 12.0, 13.0, 5.0, 2.5, 3.5, 1.5, 1.0,
           4.0, 1.0, 0.8, 0.8, 0.8, 0.8, 0.8, 0.8, 0.8, 0.8]
PM1_N = [23.5, 14, 8.2, 6, 5.9, 6.5, 9, 30, 45, 60, 100, 127, 118, 139, 118, 140, 96, 98, 124, 101,
         85, 78, 72, 68, 61, 48, 82, 30, 25, 24.7, 22, 25.9, 24.5, 23.5, 10.6, 4.7, 3.5, 2.4, 2.2, 2.0,
         2.4, 1.5, 1.2, 1.2, 1.2, 1.2, 1.2, 1.2, 1.2, 1.2]

for arr in [NO2_P10, NO2_P25, NO2_P50, NO2_P75, NO2_P90, NO2_N, O3_P10, O3_P25, O3_P50, O3_P75, O3_P90, O3_N,
            PNO3_P10, PNO3_P25, PNO3_P50, PNO3_P75, PNO3_P90, PNO3_N, PM1_P10, PM1_P25, PM1_P50, PM1_P75, PM1_P90, PM1_N]:
    assert len(arr) == len(ALT), len(arr)

# ---------------- figure ----------------
fig = go.Figure()


def split(pairs):
    return [p[0] for p in pairs], [p[1] for p in pairs]


def ts(pairs, yaxis, color, dash=None, width=2.6):
    x, y = split(pairs)
    fig.add_trace(go.Scatter(x=x, y=y, xaxis="x", yaxis=yaxis, mode="lines", connectgaps=False,
                             line=dict(color=color, width=width, dash=dash), hoverinfo="skip"))


ts(O3_TS, "y", "#ffa500")
ts(NO2_TS, "y", "#11bb11")
ts(P_DAY_TS, "y2", "#0a2cff", dash="7px,5px")
ts(P_NIGHT_TS, "y2", "#0a3cff")
ts(PM25_TS, "y3", "#ff0000")

for ya in ["y", "y2"]:
    fig.add_trace(go.Scatter(x=[0, TOTAL_HOURS], y=[0, 0], xaxis="x", yaxis=ya, mode="lines",
                             line=dict(color="black", width=4, dash="dot"), hoverinfo="skip"))

PROFILE_STYLE = {
    "no2": dict(f1="#e6f5e6", f2="#aedcae", l90="#1f9f1f", l75="#2a9a2a", l10="#8fd08f", l25="#7cc27c", dot="#0b6b0b"),
    "o3": dict(f1="#fff1d8", f2="#fad596", l90="#ffb52e", l75="#f5a623", l10="#ffd488", l25="#f9c25a", dot="#cc8800"),
    "pno3": dict(f1="#e0e8ff", f2="#a9bcf5", l90="#2255ff", l75="#2f5ef0", l10="#8ea8ff", l25="#7c96f0", dot="#1240ff"),
    "pm1": dict(f1="#ffe0e0", f2="#f7a6a6", l90="#ff2a2a", l75="#f03030", l10="#ff9090", l25="#f07a7a", dot="#cc0000"),
}


def profile(xb, xt, ya, p10, p25, p50, p75, p90, n, st):
    common = dict(y=ALT, xaxis=xb, yaxis=ya, mode="lines", hoverinfo="skip")
    fig.add_trace(go.Scatter(x=p10, line=dict(color=st["l10"], width=1.3), **common))
    fig.add_trace(go.Scatter(x=p90, line=dict(color=st["l90"], width=1.6), fill="tonextx", fillcolor=st["f1"], **common))
    fig.add_trace(go.Scatter(x=p25, line=dict(color=st["l25"], width=1.3), **common))
    fig.add_trace(go.Scatter(x=p75, line=dict(color=st["l75"], width=1.6), fill="tonextx", fillcolor=st["f2"], **common))
    fig.add_trace(go.Scatter(x=p50, y=ALT, xaxis=xb, yaxis=ya, mode="lines+markers", connectgaps=False,
                             line=dict(color=st["dot"], width=1.6), marker=dict(size=10, color=st["dot"]),
                             hoverinfo="skip"))
    fig.add_trace(go.Scatter(x=n, y=ALT, xaxis=xt, yaxis=ya, mode="lines",
                             line=dict(color="black", width=1.5, dash="4px,3px"), hoverinfo="skip"))


profile("x4", "x8", "y4", NO2_P10, NO2_P25, NO2_P50, NO2_P75, NO2_P90, NO2_N, PROFILE_STYLE["no2"])
profile("x5", "x9", "y5", O3_P10, O3_P25, O3_P50, O3_P75, O3_P90, O3_N, PROFILE_STYLE["o3"])
profile("x6", "x10", "y6", PNO3_P10, PNO3_P25, PNO3_P50, PNO3_P75, PNO3_P90, PNO3_N, PROFILE_STYLE["pno3"])
profile("x7", "x11", "y7", PM1_P10, PM1_P25, PM1_P50, PM1_P75, PM1_P90, PM1_N, PROFILE_STYLE["pm1"])

# ---------------- axes ----------------
TICKFONT = dict(family=FONT, size=31, color="black", weight="bold")
XDOM_A = [fx(164.5), fx(1232)]

fig.update_layout(
    xaxis=dict(domain=XDOM_A, range=[0, TOTAL_HOURS], anchor="y3", showgrid=False, zeroline=False,
               showline=True, linecolor=INK, linewidth=1.5, ticks="outside", ticklen=8, tickwidth=1.5,
               tickcolor=INK, tickmode="array", tickvals=DATE_LABEL_HOURS, ticktext=DATE_LABELS,
               tickfont=TICKFONT, ticklabelstandoff=1,
               minor=dict(tickmode="array", tickvals=list(range(0, TOTAL_HOURS + 1, 24)), ticks="outside",
                          ticklen=8, tickwidth=1.5, tickcolor=INK)),
)

ya_common = dict(showgrid=False, zeroline=False, showline=True, linecolor=INK, linewidth=2, ticks="outside",
                 ticklen=8, tickwidth=1.5, tickcolor=INK, tickfont=TICKFONT, tickmode="array", anchor="x",
                 ticklabelstandoff=4)
fig.update_layout(
    yaxis=dict(domain=[fy(265), fy(92)], range=[0, 70], tickvals=[0, 20, 40, 60],
               minor=dict(tickmode="array", tickvals=[10, 30, 50, 70], ticks="outside", ticklen=5, tickwidth=1.5,
                          tickcolor=INK), **ya_common),
    yaxis2=dict(domain=[fy(438), fy(265)], range=[0, 7.2], tickvals=[0, 2, 4, 6],
                minor=dict(tickmode="array", tickvals=[1, 3, 5], ticks="outside", ticklen=5, tickwidth=1.5,
                           tickcolor=INK), **ya_common),
    yaxis3=dict(domain=[fy(612), fy(438)], range=[0, 72], tickvals=[0, 20, 40, 60],
                minor=dict(tickmode="array", tickvals=[10, 30, 50], ticks="outside", ticklen=5, tickwidth=1.5,
                           tickcolor=INK), **ya_common),
)

# panel (b) axes
PX = [(165, 378), (431, 644), (697, 910), (963, 1176)]
BOT = [
    dict(range=[0, 45], tickvals=[0, 10, 20, 30, 40], minor=[]),
    dict(range=[0, 60], tickvals=[0, 20, 40, 60], minor=[10, 30, 50]),
    dict(range=[0, 4], tickvals=[0, 1, 2, 3, 4], minor=[]),
    dict(range=[0, 60], tickvals=[0, 20, 40, 60], minor=[10, 30, 50]),
]
TOP = [
    dict(range=[0, 1500], tickvals=[0, 1000], minor=[200, 400, 600, 800, 1200, 1400]),
    dict(range=[0, 1500], tickvals=[0, 1000], minor=[200, 400, 600, 800, 1200, 1400]),
    dict(range=[0, 1500], tickvals=[0, 1000], minor=[200, 400, 600, 800, 1200, 1400]),
    dict(range=[0, 150], tickvals=[0, 100], minor=[20, 40, 60, 80, 120, 140]),
]
YDOM_B = [fy(1408), fy(831)]
ALT_MINOR = [v for v in range(50, 1000, 50) if v % 200 != 0]
axes = {}
for i in range(4):
    xb = i + 4
    xt = i + 8
    yb = i + 4
    axes[f"xaxis{xb}"] = dict(domain=[fx(PX[i][0]), fx(PX[i][1])], range=BOT[i]["range"], anchor=f"y{yb}",
                              showgrid=False, zeroline=False, showline=True, linecolor="black", linewidth=2,
                              ticks="inside", ticklen=9, tickwidth=1.5, tickcolor="black", tickmode="array",
                              tickvals=BOT[i]["tickvals"], tickfont=TICKFONT, ticklabelstandoff=6,
                              minor=dict(tickmode="array", tickvals=BOT[i]["minor"], ticks="inside", ticklen=9,
                                         tickwidth=1.5, tickcolor="black"))
    axes[f"xaxis{xt}"] = dict(overlaying=f"x{xb}", side="top", range=TOP[i]["range"], anchor=f"y{yb}",
                              showgrid=False, zeroline=False, showline=True, linecolor="black", linewidth=2,
                              ticks="inside", ticklen=9, tickwidth=1.5, tickcolor="black", tickmode="array",
                              tickvals=TOP[i]["tickvals"], tickfont=TICKFONT, ticklabelstandoff=6,
                              minor=dict(tickmode="array", tickvals=TOP[i]["minor"], ticks="inside", ticklen=9,
                                         tickwidth=1.5, tickcolor="black"))
    if i == 0:
        axes[f"yaxis{yb}"] = dict(domain=YDOM_B, range=[0, 1000], anchor="free", position=fx(158),
                                  showgrid=False, zeroline=False, showline=True, linecolor="black", linewidth=2,
                                  ticks="outside", ticklen=8, tickwidth=1.5, tickcolor="black", tickmode="array",
                                  tickvals=[0, 200, 400, 600, 800, 1000], tickfont=TICKFONT, ticklabelstandoff=4,
                                  minor=dict(tickmode="array", tickvals=ALT_MINOR, ticks="outside", ticklen=6,
                                             tickwidth=1.5, tickcolor="black"))
    else:
        axes[f"yaxis{yb}"] = dict(domain=YDOM_B, range=[0, 1000], anchor=f"x{xb}", showgrid=False, zeroline=False,
                                  showline=True, linecolor="black", linewidth=2, ticks="", showticklabels=False)
fig.update_layout(**axes)
fig.update_xaxes(automargin=False)
fig.update_yaxes(automargin=False)

# ---------------- shapes ----------------
shapes = []
# night / day bands
g = 0.25
prev_end = 0.0
for d in range(len(DAY_START)):
    s = 24 * d + DAY_START[d]
    e = 24 * d + DAY_END[d]
    shapes.append(dict(type="rect", xref="x", yref="paper", x0=prev_end + (g if d else 0), x1=s - g,
                       y0=fy(612), y1=fy(92), fillcolor="#efefef", line=dict(width=0), layer="below"))
    shapes.append(dict(type="rect", xref="x", yref="paper", x0=s + g, x1=e - g,
                       y0=fy(612), y1=fy(92), fillcolor="#fff1d9", line=dict(width=0), layer="below"))
    prev_end = e
shapes.append(dict(type="rect", xref="x", yref="paper", x0=prev_end + g, x1=TOTAL_HOURS,
                   y0=fy(612), y1=fy(92), fillcolor="#efefef", line=dict(width=0), layer="below"))
for (s, e) in FLIGHTS:
    shapes.append(dict(type="rect", xref="x", yref="paper", x0=s, x1=e, y0=fy(612), y1=fy(92),
                       fillcolor="#ffc6c6", line=dict(width=0), layer="below"))

# vertical zero line in NO2 profile panel
shapes.append(dict(type="line", xref="x4", yref="y4", x0=0, x1=0, y0=0, y1=1000, line=dict(color="black", width=2)))


def prect(x0, y0, x1, y1, fill, line_color=None, lw=0):
    shapes.append(dict(type="rect", xref="paper", yref="paper", x0=fx(x0), x1=fx(x1), y0=fy(y1), y1=fy(y0),
                       fillcolor=fill, line=dict(color=line_color or fill, width=lw), layer="above"))


def pline(x0, y0, x1, y1, color, width, dash=None):
    shapes.append(dict(type="line", xref="paper", yref="paper", x0=fx(x0), x1=fx(x1), y0=fy(y0), y1=fy(y1),
                       line=dict(color=color, width=width, dash=dash), layer="above"))


# day/night legend box
prect(866, 18, 1225, 89, "white", "black", 1.5)
prect(888, 62, 915, 80, "#fde8c2")
prect(960, 62, 987, 80, "#ececec")
prect(1121, 62, 1148, 80, "#ffc6c6")
# O3/NO2 legend
prect(1118, 97, 1226, 165, "white")
pline(1124, 114, 1172, 114, "#ffa500", 2.6)
pline(1124, 148, 1172, 148, "#11bb11", 2.6)
# P legend
prect(820, 272, 1232, 340, "white")
pline(826, 287, 868, 287, "#0a2cff", 2.6, "7px,5px")
pline(826, 322, 868, 322, "#0a3cff", 2.6)
# PM2.5 legend
prect(1100, 458, 1228, 494, "white")
pline(1106, 475, 1155, 475, "#ff0000", 2.6)
# profile legend
prect(1011, 852, 1037, 871, "#e6e6e6", "#9a9a9a", 1.5)
prect(1011, 895, 1037, 914, "#a9a9a9", "#707070", 1.5)
pline(997, 946, 1050, 946, "#777777", 1.2)
pline(997, 979, 1050, 979, "black", 1.3, "3px,2px")

fig.update_layout(shapes=shapes)

# ---------------- annotations ----------------


def ann(text, x, y, size, bold=False, xanchor="center", angle=0):
    fig.add_annotation(text=f"<b>{text}</b>" if bold else text, x=fx(x), y=fy(y), xref="paper", yref="paper",
                       showarrow=False, xanchor=xanchor, yanchor="middle", textangle=angle,
                       font=dict(family=FONT, size=size, color="black"))


ann("Hawthorne surface measurements", 503, 36, 39, True)
ann("16 January—6 February, 2017", 490, 74, 31, True)
ann("Day/night", 936, 40, 27)
ann("TO night flights", 1131, 40, 28)
ann("/", 937, 70, 26)
ann("HW O<sub>3</sub>", 42, 181, 32, True, angle=-90)
ann("(ppbv)", 74, 181, 30, True, angle=-90)
ann("HW P<sub>NO₃⁻,max</sub>", 30, 357, 30, True, angle=-90)
ann("(µg m<sup>-3</sup> h<sup>-1</sup>)", 64, 356, 28, True, angle=-90)
ann("HW PM<sub>2.5</sub>", 40, 540, 30, True, angle=-90)
ann("(µg m<sup>-3</sup>)", 73, 540, 28, True, angle=-90)
ann("O<sub>3</sub>", 1186, 116, 27, xanchor="left")
ann("NO<sub>2</sub>", 1178, 150, 27, xanchor="left")
ann("P<sub>(NO₃⁻,max)</sub>: day only ~ nighttime RL", 873, 288, 25, xanchor="left")
ann("P<sub>(NO₃⁻,max)</sub>: night only", 873, 322, 25, xanchor="left")
ann("PM<sub>2.5</sub>", 1160, 476, 27, xanchor="left")
ann("MST", 674, 684, 31, True)
ann("(a)", 53, 680, 46, True)

ann("SLV night flight measurements", 553, 752, 39, True)
ann("Number of points", 1077, 769, 31, True)
ann("Altitude (m a.g.l.)", 40, 1118, 31, True, angle=-90)
ann("NO<sub>2</sub> (ppbv)", 271, 1488, 31, True)
ann("O<sub>3</sub> (ppbv)", 537, 1488, 31, True)
ann("P<sub>NO₃⁻,max</sub> (µg m<sup>-3</sup> h<sup>-1</sup>)", 802, 1486, 31, True)
ann("PM<sub>1</sub> (µg m<sup>-3</sup>)", 1069, 1486, 31, True)
ann("(b)", 53, 1485, 46, True)
ann("10<sup>th</sup>–90<sup>th</sup> percentile", 1055, 860, 28, xanchor="left")
ann("25<sup>th</sup>–75<sup>th</sup> percentile", 1055, 903, 28, xanchor="left")
ann("50<sup>th</sup> percentile", 1055, 945, 28, xanchor="left")
ann("Number of points", 1055, 979, 28, xanchor="left")

fig.update_layout(width=W, height=H, margin=dict(l=0, r=0, t=0, b=0, autoexpand=False), paper_bgcolor="white",
                  plot_bgcolor="rgba(0,0,0,0)", showlegend=False, font=dict(family=FONT, color="black"))

fig.write_html("out.html")
